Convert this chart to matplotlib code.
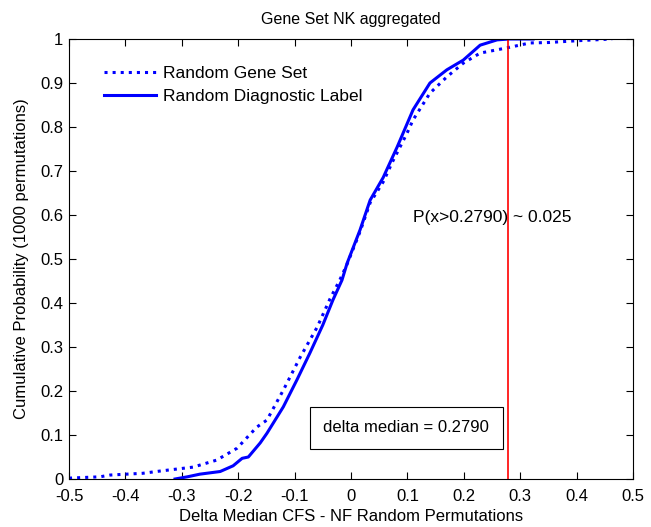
import matplotlib.pyplot as plt

plt.rcParams['font.family'] = ['Liberation Sans', 'DejaVu Sans']

gene_x = [-0.50, -0.445, -0.427, -0.369, -0.339, -0.28, -0.238, -0.202, -0.167,
          -0.149, -0.12, -0.09, -0.06, -0.037, -0.02, -0.007, 0.016, 0.034,
          0.057, 0.074, 0.099, 0.11, 0.14, 0.17, 0.199, 0.229, 0.277, 0.317,
          0.35, 0.40, 0.463]
gene_y = [0.002, 0.005, 0.009, 0.013, 0.018, 0.027, 0.043, 0.07, 0.118,
          0.134, 0.202, 0.277, 0.345, 0.41, 0.452, 0.488, 0.562, 0.628,
          0.675, 0.722, 0.785, 0.816, 0.877, 0.914, 0.945, 0.968, 0.98, 0.991,
          0.992, 0.996, 1.0]

# Random Diagnostic Label (solid)
diag_x = [-0.312, -0.29, -0.268, -0.232, -0.209, -0.193, -0.182, -0.161,
          -0.149, -0.12, -0.096, -0.073, -0.05, -0.032, -0.016, -0.007, 0.016,
          0.034, 0.057, 0.082, 0.11, 0.14, 0.17, 0.199, 0.229, 0.259, 0.28,
          0.323]
diag_y = [0.0, 0.005, 0.011, 0.017, 0.03, 0.047, 0.05, 0.082,
          0.104, 0.164, 0.225, 0.286, 0.35, 0.407, 0.452, 0.49, 0.566,
          0.634, 0.685, 0.755, 0.839, 0.9, 0.93, 0.952, 0.986, 0.998, 1.0,
          1.0]

delta_median = 0.2790
p_value = 0.025

fig = plt.figure(figsize=(6.51, 5.27), dpi=100)
ax = fig.add_axes([69 / 651, 1 - 479 / 527, 564 / 651, 440 / 527])

ax.plot(gene_x, gene_y, ':', color='blue', linewidth=2.2, label='Random Gene Set')
ax.plot(diag_x, diag_y, '-', color='blue', linewidth=2.2, label='Random Diagnostic Label')
ax.plot([delta_median, delta_median], [0, 1], '-', color='red', linewidth=1.2)

ax.text(0.11, 0.595, 'P(x>%.4f) ~ %.3f' % (delta_median, p_value), fontsize=12.5,
        ha='left', va='center')
ax.text(0.098, 0.116, 'delta median = %.4f' % delta_median, fontsize=12,
        ha='center', va='center',
        bbox=dict(boxstyle='square,pad=0.8', facecolor='white', edgecolor='black',
                  linewidth=0.8))

ax.set_xlim(-0.5, 0.5)
ax.set_ylim(0, 1)
ax.set_xticks([-0.5, -0.4, -0.3, -0.2, -0.1, 0, 0.1, 0.2, 0.3, 0.4, 0.5])
ax.set_xticklabels(['-0.5', '-0.4', '-0.3', '-0.2', '-0.1', '0', '0.1', '0.2',
                    '0.3', '0.4', '0.5'])
ax.set_yticks([0, 0.1, 0.2, 0.3, 0.4, 0.5, 0.6, 0.7, 0.8, 0.9, 1])
ax.set_yticklabels(['0', '0.1', '0.2', '0.3', '0.4', '0.5', '0.6', '0.7', '0.8',
                    '0.9', '1'])
ax.tick_params(direction='in', top=True, right=True, labelsize=12, length=5,
               width=0.8)
ax.tick_params(axis='x', pad=7)
ax.tick_params(axis='y', pad=4)
for s in ax.spines.values():
    s.set_linewidth(0.8)

ax.set_title('Gene Set NK aggregated', fontsize=11.5, pad=11)
ax.set_xlabel('Delta Median CFS - NF Random Permutations', fontsize=12, labelpad=4)
ax.set_ylabel('Cumulative Probability (1000 permutations)', fontsize=12, labelpad=8)

ax.legend(loc='upper left', bbox_to_anchor=(0.035, 0.975), frameon=False,
          fontsize=12.5, handlelength=3.0, handletextpad=0.4, labelspacing=0.45)

fig.savefig('out.png', dpi=100, facecolor='white')
